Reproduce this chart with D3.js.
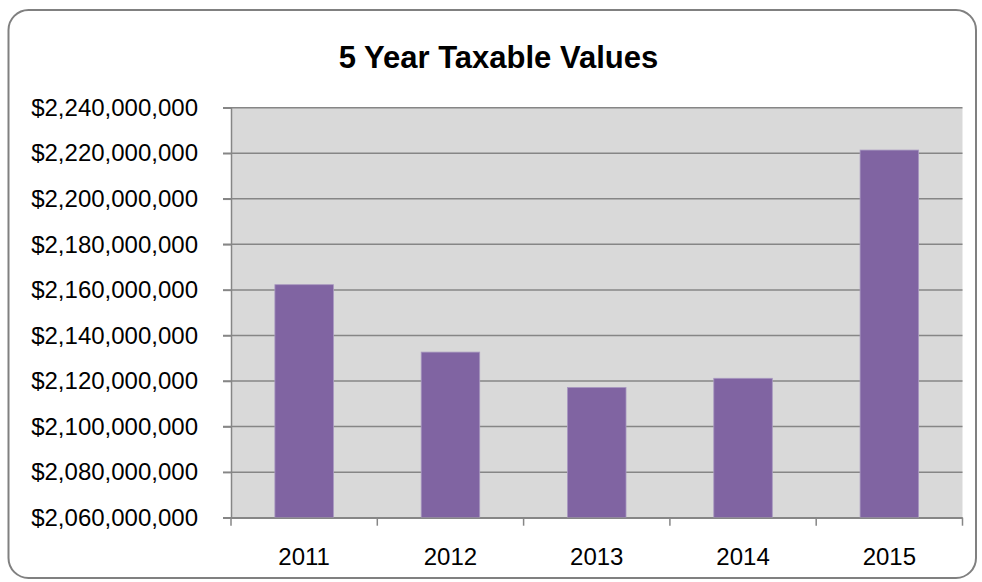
<!DOCTYPE html>
<html>
<head>
<meta charset="utf-8">
<script src="https://cdn.jsdelivr.net/npm/d3@7"></script>
<style>
body { margin: 0; background: #fff; }
svg { display: block; font-family: "Liberation Sans", Arial, sans-serif; }
</style>
</head>
<body>
<svg></svg>
<script>
var years = ["2011", "2012", "2013", "2014", "2015"]
var values = [2162300000, 2132700000, 2117200000, 2121200000, 2221400000]
var yTicks = [2060000000, 2080000000, 2100000000, 2120000000, 2140000000,
              2160000000, 2180000000, 2200000000, 2220000000, 2240000000]

var screen = {width: 982, height: 582}
var plot = {left: 231, right: 962.5, top: 107.7, bottom: 517.7}

var svg = d3.select("svg")
    .attr("width", screen.width)
    .attr("height", screen.height)

// outer chart frame
svg.append("rect")
    .attr("x", 8.5).attr("y", 10)
    .attr("width", 967.5).attr("height", 568)
    .attr("rx", 20).attr("ry", 20)
    .attr("fill", "#fff")
    .attr("stroke", "#808080")
    .attr("stroke-width", 2)

svg.append("text")
    .attr("x", 498.5).attr("y", 68)
    .attr("text-anchor", "middle")
    .attr("font-size", 31)
    .attr("font-weight", "bold")
    .attr("fill", "#000")
    .text("5 Year Taxable Values")

var xscale = d3.scaleBand()
    .domain(years)
    .range([plot.left, plot.right])
    .paddingInner(0.6)
    .paddingOuter(0.3)

var yscale = d3.scaleLinear()
    .domain([2060000000, 2240000000])
    .range([plot.bottom, plot.top])

// plot background
svg.append("rect")
    .attr("x", plot.left).attr("y", plot.top)
    .attr("width", plot.right - plot.left)
    .attr("height", plot.bottom - plot.top)
    .attr("fill", "#d9d9d9")

// gridlines
svg.append("g")
    .selectAll("line")
    .data(yTicks)
    .enter()
    .append("line")
    .attr("x1", plot.left - 8)
    .attr("x2", plot.right)
    .attr("y1", function(d) { return yscale(d) })
    .attr("y2", function(d) { return yscale(d) })
    .attr("stroke", "#868686")
    .attr("stroke-width", 1.5)

// bars
svg.append("g")
    .selectAll("rect")
    .data(values)
    .enter()
    .append("rect")
    .attr("x", function(d, i) { return xscale(years[i]) })
    .attr("width", xscale.bandwidth())
    .attr("y", function(d) { return yscale(d) })
    .attr("height", function(d) { return plot.bottom - yscale(d) })
    .attr("fill", "#8064a2")
    .attr("stroke", "#a898c0")
    .attr("stroke-width", 0.8)

// y axis
var yAxis = d3.axisLeft(yscale)
    .tickValues(yTicks)
    .tickSize(8)
    .tickPadding(25)
    .tickFormat(function(d) { return "$" + d3.format(",")(d) })

svg.append("g")
    .attr("transform", "translate(" + plot.left + ",0)")
    .call(yAxis)
    .call(function(g) {
        g.select(".domain").attr("stroke", "#868686").attr("stroke-width", 1.5)
        g.selectAll(".tick line").attr("stroke", "#868686").attr("stroke-width", 1.5)
        g.selectAll(".tick text").attr("font-size", 24).attr("fill", "#000")
            .attr("font-family", "Liberation Sans, Arial, sans-serif")
    })

// x axis with ticks on band edges
var xAxis = d3.axisBottom(xscale).tickSize(0).tickPadding(30)
var xg = svg.append("g")
    .attr("transform", "translate(0," + plot.bottom + ")")
    .call(xAxis)
xg.select(".domain").attr("stroke", "#868686").attr("stroke-width", 1.5)
xg.selectAll(".tick text").attr("font-size", 24).attr("fill", "#000")
    .attr("font-family", "Liberation Sans, Arial, sans-serif")

var edges = years.map(function(y) { return xscale(y) - xscale.bandwidth() * 0.75 })
edges.push(plot.right)
xg.selectAll(".edge")
    .data(edges)
    .enter()
    .append("line")
    .attr("class", "edge")
    .attr("x1", function(d) { return d })
    .attr("x2", function(d) { return d })
    .attr("y1", 0).attr("y2", 8)
    .attr("stroke", "#868686")
    .attr("stroke-width", 1.5)
</script>
</body>
</html>
